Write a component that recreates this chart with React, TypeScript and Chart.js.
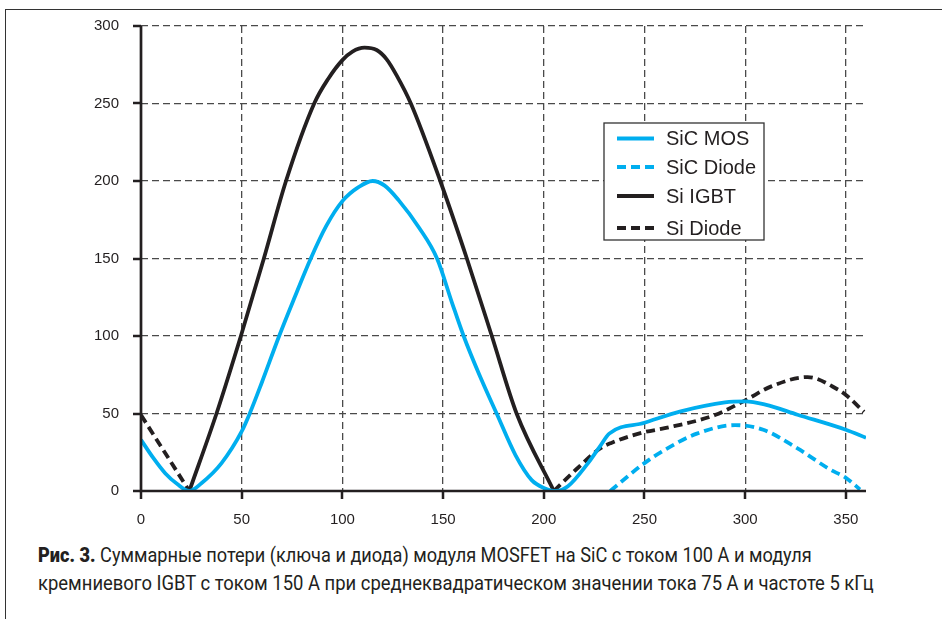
import React, { useEffect, useLayoutEffect, useRef } from "react";
import { Chart, registerables } from "chart.js";

Chart.register(...registerables);

// ---- data ----
const sicMosX = [0, 6, 12, 18, 24, 30, 40, 50, 54, 60, 68.6, 76, 84.3, 92, 100, 108, 115, 121, 128, 138, 147, 154.4, 160.2, 168, 176.6, 186, 194, 200, 206, 212, 222, 228, 232.5, 250, 268, 290, 300, 310, 326, 350, 360];
const sicMosY = [33, 21.5, 11.5, 4.5, 0, 5, 18, 38.4, 50, 70, 100, 124, 150, 171, 187, 196, 200, 197, 187.5, 170, 150, 121.6, 100, 75, 50, 23, 7, 2, 0, 3, 18, 29, 37, 44, 51.4, 57.2, 57.8, 55.7, 49.2, 39.5, 34.3];

const sicDiodeX = [233, 250, 260, 276, 295, 309, 326, 342, 350, 357];
const sicDiodeY = [0, 18, 26.5, 37, 42.5, 39.5, 27.5, 14, 8.5, 1];

const siIgbtX = [24, 37.5, 49.6, 61, 72, 86, 93, 100, 105, 111, 117, 122, 127, 134, 148.6, 161.8, 174.2, 186.5, 205];
const siIgbtY = [0, 50, 100, 150, 200, 250, 266, 278, 283.5, 286, 284.5, 278.5, 268, 250, 200, 150, 100, 50, 0];

const siDiodeX = [0, 24, 100, 205, 217, 228, 233.5, 250, 260, 285, 300, 313, 331, 346, 350, 359];
const siDiodeY = [49, 0, null, 0, 15, 27.5, 31, 38, 40.5, 49, 58.5, 67.5, 73.5, 65.5, 62, 51];

const xTickStep = 50;
const yTickStep = 50;
const xMax = 360;
const yMax = 300;

const seriesLabels = ["SiC MOS", "SiC Diode", "Si IGBT", "Si Diode"];

const captionBold = "Рис. 3.";
const captionLine1 = " Суммарные потери (ключа и диода) модуля MOSFET на SiC с током 100 А и модуля";
const captionLine2 = "кремниевого IGBT с током 150 А при среднеквадратическом значении тока 75 А и частоте 5 кГц";

const BLUE = "#00aeef";
const BLACK = "#231f20";

const toPoints = (xs: number[], ys: (number | null)[]) => xs.map((x, i) => ({ x, y: ys[i] }));

const boxLegend = {
  id: "boxLegend",
  afterDraw(chart: any, _args: any, opts: any) {
    const ctx = chart.ctx;
    ctx.save();
    ctx.fillStyle = "#ffffff";
    ctx.fillRect(opts.x, opts.y, opts.w, opts.h);
    ctx.strokeStyle = "#333";
    ctx.lineWidth = 1.3;
    ctx.strokeRect(opts.x, opts.y, opts.w, opts.h);
    chart.data.datasets.forEach((ds: any, i: number) => {
      const y = opts.rows[i];
      ctx.beginPath();
      ctx.setLineDash(ds.borderDash || []);
      ctx.strokeStyle = ds.borderColor;
      ctx.lineWidth = 4;
      ctx.moveTo(opts.x + 13, y);
      ctx.lineTo(opts.x + 50, y);
      ctx.stroke();
      ctx.setLineDash([]);
      ctx.fillStyle = BLACK;
      ctx.font = '20px "Liberation Sans", Arial, sans-serif';
      ctx.textBaseline = "middle";
      ctx.textAlign = "left";
      ctx.fillText(ds.label, opts.x + 62, y + 1);
    });
    ctx.restore();
  },
};

const axisLines = {
  id: "axisLines",
  afterDraw(chart: any) {
    const { ctx, chartArea, scales } = chart;
    ctx.save();
    ctx.setLineDash([]);
    ctx.strokeStyle = BLACK;
    ctx.lineWidth = 2.5;
    ctx.beginPath();
    scales.x.ticks.forEach((t: any) => {
      const px = Math.round(scales.x.getPixelForValue(t.value));
      ctx.moveTo(px, chartArea.bottom);
      ctx.lineTo(px, chartArea.bottom + 8);
    });
    scales.y.ticks.forEach((t: any) => {
      const py = Math.round(scales.y.getPixelForValue(t.value));
      ctx.moveTo(chartArea.left - 8, py);
      ctx.lineTo(chartArea.left, py);
    });
    ctx.stroke();
    ctx.lineWidth = 2.7;
    ctx.beginPath();
    ctx.moveTo(chartArea.left, chartArea.top);
    ctx.lineTo(chartArea.left, chartArea.bottom);
    ctx.lineTo(chartArea.right, chartArea.bottom);
    ctx.stroke();
    ctx.restore();
  },
};

function Caption() {
  const l1 = useRef<HTMLDivElement>(null);
  const l2 = useRef<HTMLDivElement>(null);
  useLayoutEffect(() => {
    const fit = (el: HTMLDivElement | null, target: number) => {
      if (!el) return;
      el.style.transform = "none";
      const w = el.scrollWidth;
      if (w > 0) el.style.transform = `scaleX(${target / w})`;
    };
    fit(l1.current, 774);
    fit(l2.current, 836);
  }, []);
  const base: React.CSSProperties = {
    position: "absolute",
    left: 38,
    whiteSpace: "nowrap",
    fontFamily: 'Roboto, "Liberation Sans", sans-serif',
    fontSize: 20,
    lineHeight: "20px",
    color: BLACK,
    transformOrigin: "left center",
    display: "inline-block",
  };
  return (
    <>
      <div ref={l1} style={{ ...base, top: 545 }}>
        <b style={{ fontWeight: 900 }}>{captionBold}</b>
        {captionLine1}
      </div>
      <div ref={l2} style={{ ...base, top: 573 }}>
        {captionLine2}
      </div>
    </>
  );
}

export default function App() {
  const canvasRef = useRef<HTMLCanvasElement>(null);

  useEffect(() => {
    if (!canvasRef.current) return;
    const tickFont = { family: '"Liberation Sans", Arial, sans-serif', size: 15 };
    const gridOpts = {
      color: "#4a4a4a",
      lineWidth: 1.3,
      drawTicks: true,
      tickLength: 8,
      tickColor: "rgba(0,0,0,0)",
      tickWidth: 0,
    };
    const chart = new Chart(canvasRef.current, {
      type: "line",
      data: {
        datasets: [
          {
            label: seriesLabels[0],
            data: toPoints(sicMosX, sicMosY),
            borderColor: BLUE,
            borderWidth: 3.8,
            borderDash: [],
          },
          {
            label: seriesLabels[1],
            data: toPoints(sicDiodeX, sicDiodeY),
            borderColor: BLUE,
            borderWidth: 3.8,
            borderDash: [9, 5],
          },
          {
            label: seriesLabels[2],
            data: toPoints(siIgbtX, siIgbtY),
            borderColor: BLACK,
            borderWidth: 3.8,
            borderDash: [],
          },
          {
            label: seriesLabels[3],
            data: toPoints(siDiodeX, siDiodeY),
            borderColor: BLACK,
            borderWidth: 3.8,
            borderDash: [9, 5],
          },
        ] as any,
      },
      options: {
        animation: false,
        responsive: false,
        devicePixelRatio: 1,
        spanGaps: false,
        elements: {
          point: { radius: 0 },
          line: { cubicInterpolationMode: "monotone", fill: false, borderCapStyle: "butt" },
        },
        layout: { padding: { top: 26, right: 76, left: 0, bottom: 0 } },
        plugins: {
          legend: { display: false },
          tooltip: { enabled: false },
          boxLegend: { x: 604, y: 123, w: 160, h: 117, rows: [138.5, 167, 196, 228] },
        } as any,
        scales: {
          x: {
            type: "linear",
            min: 0,
            max: xMax,
            afterFit: (s: any) => {
              s.height = 49;
            },
            ticks: {
              stepSize: xTickStep,
              includeBounds: false,
              color: BLACK,
              font: tickFont,
              padding: 12,
              maxRotation: 0,
            },
            grid: gridOpts,
            border: { display: false, dash: [7, 4] },
          },
          y: {
            type: "linear",
            min: 0,
            max: yMax,
            afterFit: (s: any) => {
              s.width = 141;
            },
            ticks: {
              stepSize: yTickStep,
              includeBounds: false,
              color: BLACK,
              font: tickFont,
              padding: 14,
            },
            grid: gridOpts,
            border: { display: false, dash: [7, 4] },
          },
        },
      } as any,
      plugins: [axisLines, boxLegend],
    });
    return () => chart.destroy();
  }, []);

  return (
    <div
      style={{
        position: "fixed",
        left: 0,
        top: 0,
        width: 942,
        height: 619,
        background: "#ffffff",
        overflow: "hidden",
      }}
    >
      <div
        style={{
          position: "absolute",
          left: 5,
          top: 9,
          width: 960,
          height: 640,
          borderTop: "1.5px solid #333",
          borderLeft: "1.5px solid #333",
        }}
      />
      <canvas
        ref={canvasRef}
        width={942}
        height={540}
        style={{ position: "absolute", left: 0, top: 0, width: 942, height: 540 }}
      />
      <Caption />
    </div>
  );
}
